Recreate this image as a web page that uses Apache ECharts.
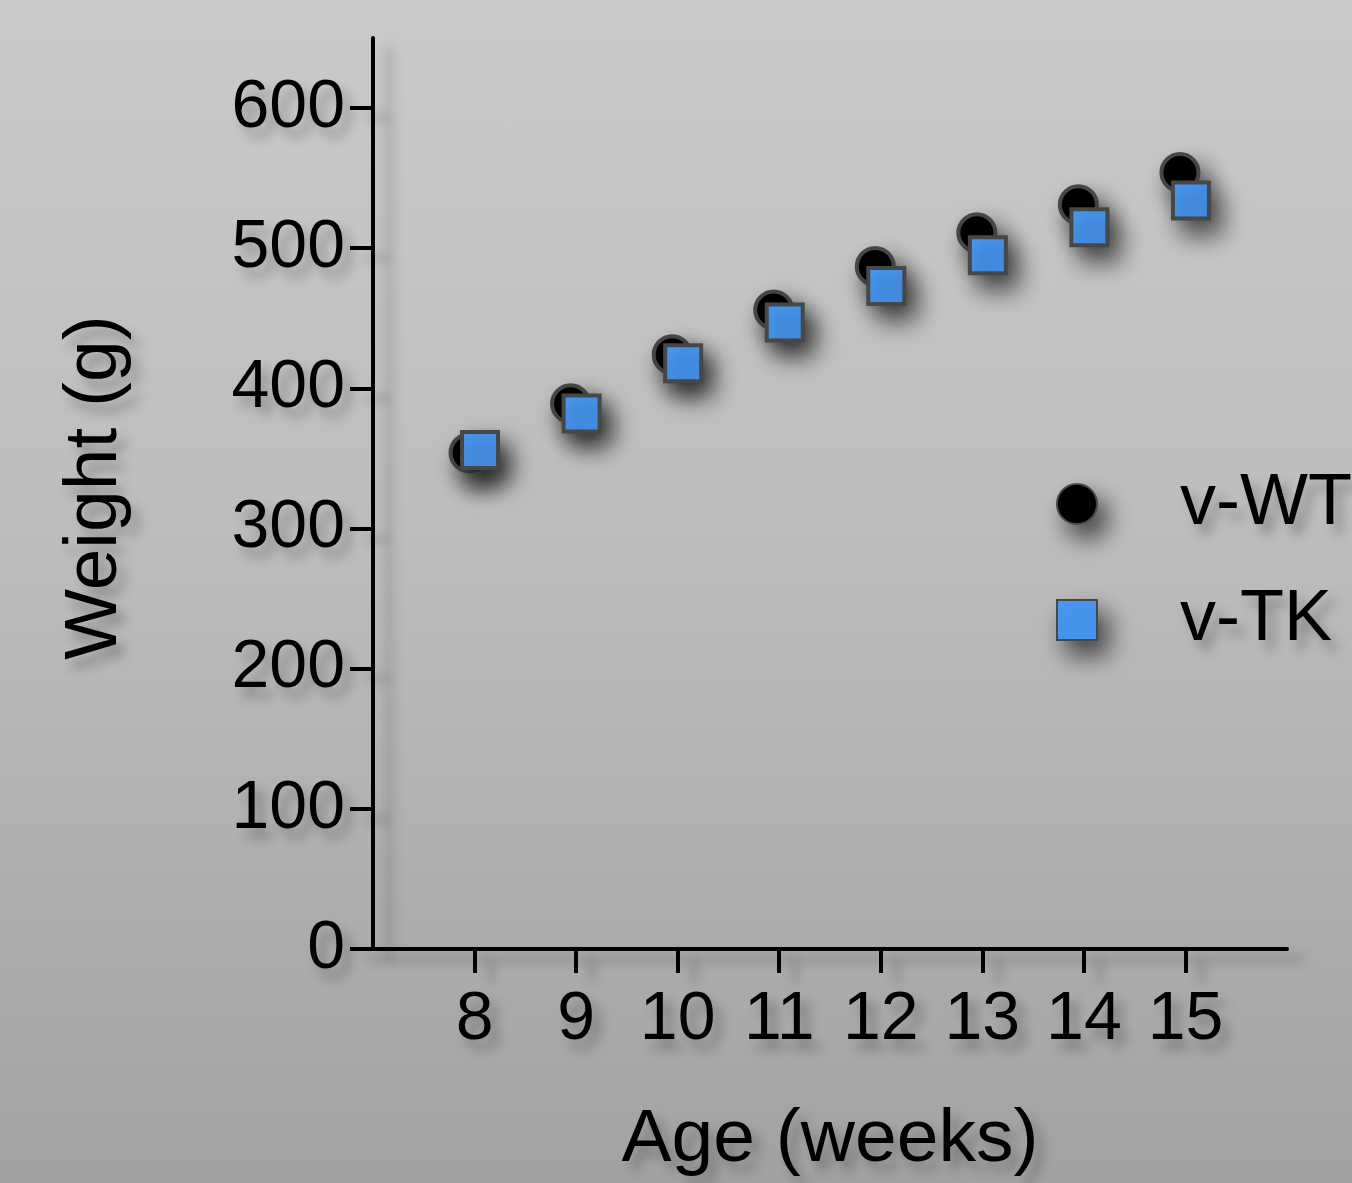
<!DOCTYPE html>
<html>
<head>
<meta charset="utf-8">
<script src="https://cdn.jsdelivr.net/npm/echarts@6/dist/echarts.min.js"></script>
<style>
html,body{margin:0;padding:0;width:1352px;height:1183px;overflow:hidden;}
#c{width:1352px;height:1183px;background:linear-gradient(to bottom,#cacaca 0%,#bdbdbd 45%,#a2a2a2 100%);}
</style>
</head>
<body>
<div id="c"></div>
<script>
const ageWeeks = [8, 9, 10, 11, 12, 13, 14, 15];
const weightWT = [354, 389, 424, 456, 487, 511, 531, 554];
const weightTK = [356, 382, 418, 447, 473, 495, 515, 534];
const yTicks = [0, 100, 200, 300, 400, 500, 600];
const seriesNames = ['v-WT', 'v-TK'];

const FONT = '"Liberation Sans", Arial, sans-serif';
const txtShadow = {textShadowColor: 'rgba(0,0,0,0.28)', textShadowBlur: 12, textShadowOffsetX: 8, textShadowOffsetY: 10};
const lineShadow = {shadowColor: 'rgba(0,0,0,0.28)', shadowBlur: 12, shadowOffsetX: 16, shadowOffsetY: 10};
const markShadow = {shadowColor: 'rgba(0,0,0,0.65)', shadowBlur: 24, shadowOffsetX: 10, shadowOffsetY: 14};

const chart = echarts.init(document.getElementById('c'));
chart.setOption({
  backgroundColor: 'transparent',
  animation: false,
  textStyle: {fontFamily: FONT},
  grid: {left: 373, width: 914, top: 38, height: 913, containLabel: false},
  legend: {
    orient: 'vertical', left: 1051, top: 459,
    itemWidth: 40, itemHeight: 40, itemGap: 36,
    data: [
      {name: seriesNames[0], icon: 'circle'},
      {name: seriesNames[1], icon: 'rect'}
    ],
    textStyle: Object.assign({fontSize: 72, color: '#000', fontFamily: FONT, lineHeight: 80, padding: [0, 0, 0, 78]}, txtShadow),
    itemStyle: markShadow
  },
  xAxis: {
    type: 'value', min: 7, max: 16, interval: 1,
    name: 'Age (weeks)', nameLocation: 'middle', nameGap: 154,
    nameTextStyle: Object.assign({fontSize: 75, color: '#000', fontFamily: FONT}, txtShadow),
    axisLine: {show: true, onZero: false, lineStyle: Object.assign({color: '#000', width: 4}, lineShadow)},
    axisTick: {show: true, customValues: ageWeeks, length: 24, lineStyle: Object.assign({color: '#000', width: 4}, lineShadow)},
    axisLabel: Object.assign({customValues: ageWeeks, fontSize: 68, color: '#000', margin: 37, fontFamily: FONT}, txtShadow),
    splitLine: {show: false}
  },
  yAxis: {
    type: 'value', min: 0, max: 650, interval: 100,
    name: 'Weight (g)', nameLocation: 'middle', nameGap: 240, nameRotate: 90,
    nameTextStyle: Object.assign({fontSize: 75, color: '#000', fontFamily: FONT, padding: [0, 0, 0, 12]}, txtShadow),
    axisLine: {show: true, lineStyle: Object.assign({color: '#000', width: 4}, lineShadow)},
    axisTick: {show: true, customValues: yTicks, length: 23, lineStyle: Object.assign({color: '#000', width: 4}, lineShadow)},
    axisLabel: Object.assign({customValues: yTicks, fontSize: 68, color: '#000', margin: 28, fontFamily: FONT}, txtShadow),
    splitLine: {show: false}
  },
  series: [
    {
      name: seriesNames[0], type: 'scatter', symbol: 'circle', symbolSize: 37,
      symbolOffset: [-5.5, 0],
      data: ageWeeks.map((a, i) => [a, weightWT[i]]),
      itemStyle: Object.assign({color: '#000', borderColor: '#474747', borderWidth: 4, opacity: 1}, markShadow),
      z: 2
    },
    {
      name: seriesNames[1], type: 'scatter', symbol: 'rect', symbolSize: 36,
      symbolOffset: [5.5, 0],
      data: ageWeeks.map((a, i) => [a, weightTK[i]]),
      itemStyle: Object.assign({color: '#4a9bf8', borderColor: '#474747', borderWidth: 4, opacity: 1}, markShadow),
      z: 3
    }
  ]
});
</script>
</body>
</html>
